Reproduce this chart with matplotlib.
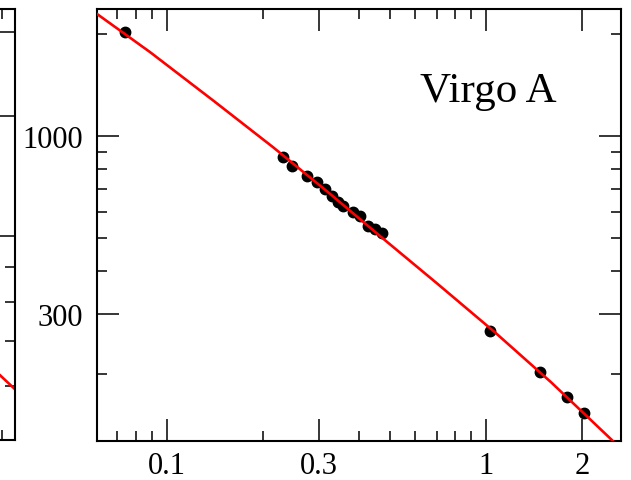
import numpy as np
import matplotlib
matplotlib.use("Agg")
import matplotlib.pyplot as plt
from matplotlib.ticker import FixedLocator, NullFormatter, FixedFormatter

# Dados (frequencia x densidade de fluxo)
freq = [0.074, 0.231, 0.247, 0.275, 0.295, 0.313, 0.329, 0.343, 0.356,
        0.383, 0.403, 0.427, 0.449, 0.472, 1.03, 1.476, 1.79, 2.03]
fluxo = [2020, 867, 816, 763, 732, 698, 666, 640, 622,
         598, 582, 544, 532, 518, 268, 202, 171, 154]

ajuste_x = [0.0604, 0.0885, 0.14, 0.215, 0.32, 0.466, 0.7, 1.067, 1.6, 2.5]
ajuste_y = [2285, 1766, 1270, 928, 684, 508, 370, 265, 189, 127]

# Pedaco do painel vizinho (a esquerda)
viz_x = [2.0, 2.65]
viz_y = [134.5, 118.8]

x_major = [0.1, 0.3, 1, 2]
x_labels = ["0.1", "0.3", "1", "2"]
x_minor = [0.06, 0.07, 0.08, 0.09, 0.2, 0.4, 0.5, 0.6, 0.7, 0.8, 0.9]
y_major = [300, 1000]
y_labels = ["300", "1000"]
y_minor = [200, 400, 500, 600, 700, 800, 900, 2000]

plt.rcParams['font.family'] = ['Liberation Serif', 'DejaVu Serif']

fig = plt.figure(figsize=(6.31, 4.81), dpi=100)
W, H = 631, 481


def estilo(ax):
    for s in ax.spines.values():
        s.set_linewidth(1.5)
        s.set_color("black")
    ax.tick_params(which="both", direction="in", top=True, right=True,
                   width=1.1, color="black")
    ax.tick_params(which="major", length=15.5)
    ax.tick_params(which="minor", length=7.5)


# Painel principal
ax = fig.add_axes([97 / W, (H - 442) / H, (621 - 97) / W, (442 - 10) / H])
ax.set_xscale("log")
ax.set_yscale("log")
ax.plot(freq, fluxo, "o", color="black", markersize=7.5, zorder=2)
ax.plot(ajuste_x, ajuste_y, "-", color="#ff0000", linewidth=1.9, zorder=3)
ax.set_xlim(0.0604, 2.65)
ax.set_ylim(127, 2363)
ax.xaxis.set_major_locator(FixedLocator(x_major))
ax.xaxis.set_major_formatter(FixedFormatter(x_labels))
ax.xaxis.set_minor_locator(FixedLocator(x_minor))
ax.xaxis.set_minor_formatter(NullFormatter())
ax.yaxis.set_major_locator(FixedLocator(y_major))
ax.yaxis.set_major_formatter(FixedFormatter(y_labels))
ax.yaxis.set_minor_locator(FixedLocator(y_minor))
ax.yaxis.set_minor_formatter(NullFormatter())
estilo(ax)
ax.tick_params(axis="x", which="major", labelsize=22, pad=7)
ax.tick_params(axis="y", which="major", labelsize=22, pad=10)
ax.text(0.616, 0.787, "Virgo A", transform=ax.transAxes, fontsize=31,
        ha="left", va="baseline")

# Painel vizinho cortado
ax0 = fig.add_axes([(15 - 524) / W, (H - 441) / H, 524 / W, (441 - 10) / H])
ax0.set_xscale("log")
ax0.set_yscale("log")
ax0.plot(viz_x, viz_y, "-", color="#ff0000", linewidth=1.9)
ax0.set_xlim(0.0604, 2.65)
ax0.set_ylim(100, 432)
ax0.xaxis.set_major_locator(FixedLocator([]))
ax0.xaxis.set_minor_locator(FixedLocator([2.41]))
ax0.yaxis.set_major_locator(FixedLocator([200, 300, 400]))
ax0.yaxis.set_minor_locator(FixedLocator([120, 140, 160, 180]))
ax0.xaxis.set_major_formatter(NullFormatter())
ax0.xaxis.set_minor_formatter(NullFormatter())
ax0.yaxis.set_major_formatter(NullFormatter())
ax0.yaxis.set_minor_formatter(NullFormatter())
estilo(ax0)

fig.savefig("out.png", dpi=100)
